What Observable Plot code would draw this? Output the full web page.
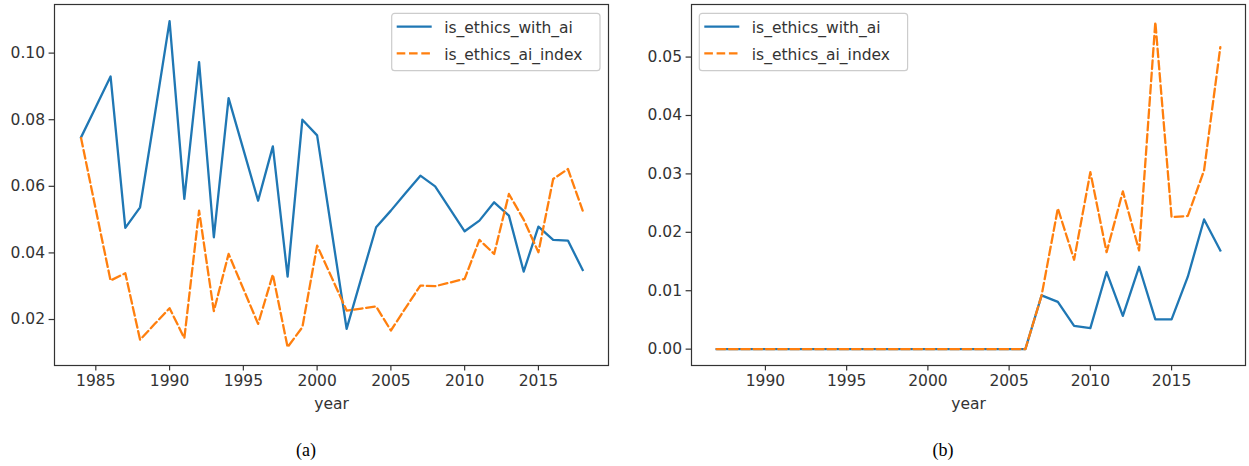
<!DOCTYPE html>
<html>
<head>
<meta charset="utf-8">
<script src="https://cdn.jsdelivr.net/npm/d3@7"></script>
<script src="https://cdn.jsdelivr.net/npm/@observablehq/plot@0.6"></script>
<style>
  html, body { margin: 0; padding: 0; background: white; }
  #wrap { position: relative; width: 1249px; height: 466px; overflow: hidden; background: white; }
  .panel { position: absolute; top: 0; }
  .cap { position: absolute; font-family: "Liberation Serif", "Times New Roman", serif; font-size: 18px; color: #000; line-height: 1; transform: translateX(-50%); white-space: nowrap; }
</style>
</head>
<body>
<div id="wrap">
  <div id="pa" class="panel" style="left:0px"></div>
  <div id="pb" class="panel" style="left:620px"></div>
  <div class="cap" style="left:306px; top:441px">(a)</div>
  <div class="cap" style="left:943px; top:441px">(b)</div>
</div>
<script>
// ---------- Data ----------
const yearsA = [1984,1985,1986,1987,1988,1989,1990,1991,1992,1993,1994,1995,1996,1997,1998,1999,2000,2001,2002,2003,2004,2005,2006,2007,2008,2009,2010,2011,2012,2013,2014,2015,2016,2017,2018];
const withAiA = [0.0747,0.0838,0.0930,0.0475,0.0537,0.0815,0.1096,0.0562,0.0973,0.0447,0.0865,0.0711,0.0557,0.0720,0.0329,0.0800,0.0753,0.0462,0.0172,0.0325,0.0477,0.0527,0.0580,0.0632,0.0600,0.0532,0.0465,0.0497,0.0552,0.0512,0.0344,0.0479,0.0439,0.0437,0.0349];
const indexA = [0.0745,0.0530,0.0317,0.0339,0.0139,0.0187,0.0234,0.0144,0.0527,0.0225,0.0397,0.0292,0.0187,0.0335,0.0117,0.0177,0.0422,0.0325,0.0227,0.0233,0.0239,0.0167,0.0235,0.0302,0.0300,0.0311,0.0322,0.0439,0.0397,0.0577,0.0500,0.0402,0.0622,0.0652,0.0527];

const yearsB = [1987,1988,1989,1990,1991,1992,1993,1994,1995,1996,1997,1998,1999,2000,2001,2002,2003,2004,2005,2006,2007,2008,2009,2010,2011,2012,2013,2014,2015,2016,2017,2018];
const withAiB = [0,0,0,0,0,0,0,0,0,0,0,0,0,0,0,0,0,0,0,0,0.0092,0.0081,0.0040,0.0036,0.0132,0.0057,0.0141,0.0051,0.0051,0.0124,0.0222,0.0169];
const indexB  = [0,0,0,0,0,0,0,0,0,0,0,0,0,0,0,0,0,0,0,0,0.0092,0.0241,0.0153,0.0303,0.0166,0.0270,0.0169,0.0560,0.0226,0.0228,0.0306,0.0517];

const seriesNames = ["is_ethics_with_ai", "is_ethics_ai_index"];
const xTicksA = [1985,1990,1995,2000,2005,2010,2015];
const yTicksA = [0.02,0.04,0.06,0.08,0.10];
const xTicksB = [1990,1995,2000,2005,2010,2015];
const yTicksB = [0.00,0.01,0.02,0.03,0.04,0.05];
const xLabel = "year";

const BLUE = "#1f77b4", ORANGE = "#ff7f0e";
const FONT = "'DejaVu Sans', sans-serif";
const FS = 15.5;
const DASH = "8.6,3.7";
const LW = 2.3;

function makePanel({years, s1, s2, xDomain, yDomain, xTicks, yTicks, width, marginLeft, marginRight}) {
  const d1 = years.map((y, i) => ({year: y, v: s1[i]}));
  const d2 = years.map((y, i) => ({year: y, v: s2[i]}));
  const svg = Plot.plot({
    width, height: 420,
    marginLeft, marginRight, marginTop: 4, marginBottom: 55,
    style: {fontSize: FS + "px", fontFamily: FONT, color: "#333", background: "white", overflow: "visible"},
    x: {domain: xDomain},
    y: {domain: yDomain},
    marks: [
      Plot.axisX({ticks: xTicks, tickFormat: "d", tickSize: 5.4, tickPadding: 4, label: null, stroke: "#333", strokeWidth: 1.2, fill: "#333"}),
      Plot.axisY({ticks: yTicks, tickFormat: ".2f", tickSize: 5.4, tickPadding: 4, label: null, stroke: "#333", strokeWidth: 1.2, fill: "#333"}),
      Plot.line(d1, {x: "year", y: "v", stroke: BLUE, strokeWidth: LW, strokeLinejoin: "round", strokeLinecap: "square"}),
      Plot.line(d2, {x: "year", y: "v", stroke: ORANGE, strokeWidth: LW, strokeDasharray: DASH, strokeLinejoin: "round"}),
      Plot.frame({stroke: "#333", strokeWidth: 1.2}),
      Plot.text([xLabel], {frameAnchor: "bottom", dy: 43, fill: "#333", fontSize: FS})
    ]
  });
  return svg;
}

function addLegend(svg, x0) {
  const g = d3.select(svg).append("g").attr("font-family", FONT).attr("font-size", FS).attr("text-anchor", "start");
  g.append("rect").attr("x", x0).attr("y", 13.3).attr("width", 208.3).attr("height", 57.4)
    .attr("rx", 3).attr("fill", "white").attr("fill-opacity", 0.8).attr("stroke", "#cccccc").attr("stroke-width", 1.2);
  const rows = [
    {name: seriesNames[0], color: BLUE, dash: null, y: 26.7},
    {name: seriesNames[1], color: ORANGE, dash: DASH, y: 53.3}
  ];
  rows.forEach(r => {
    const ln = g.append("line").attr("x1", x0 + 5).attr("x2", x0 + 40).attr("y1", r.y).attr("y2", r.y)
      .attr("stroke", r.color).attr("stroke-width", LW);
    if (r.dash) ln.attr("stroke-dasharray", DASH);
    g.append("text").attr("x", x0 + 52.5).attr("y", r.y + 6.3).attr("fill", "#333")
      .attr("text-anchor", "start").text(r.name);
  });
}

const svgA = makePanel({years: yearsA, s1: withAiA, s2: indexA,
  xDomain: [1982.2, 2019.75], yDomain: [0.00619, 0.1146],
  xTicks: xTicksA, yTicks: yTicksA, width: 620, marginLeft: 54, marginRight: 12});
addLegend(svgA, 391.7);
document.getElementById("pa").appendChild(svgA);

const svgB = makePanel({years: yearsB, s1: withAiB, s2: indexB,
  xDomain: [1985.45, 2019.55], yDomain: [-0.0028, 0.0590],
  xTicks: xTicksB, yTicks: yTicksB, width: 629, marginLeft: 71, marginRight: 4});
addLegend(svgB, 79.3);
document.getElementById("pb").appendChild(svgB);
</script>
</body>
</html>
